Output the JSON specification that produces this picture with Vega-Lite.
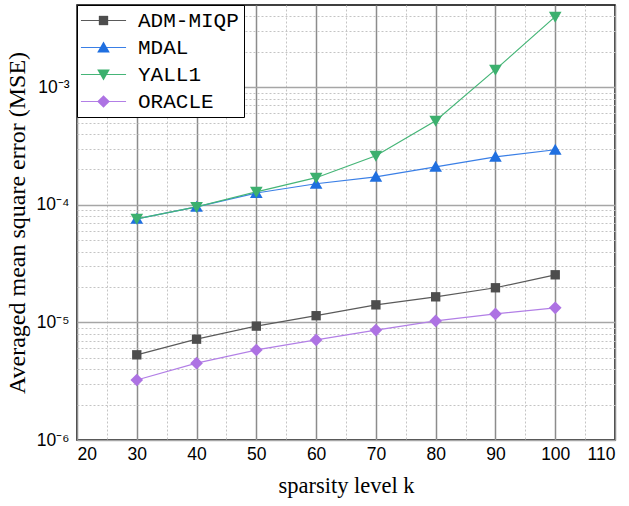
{
  "$schema": "https://vega.github.io/schema/vega-lite/v6.json",
  "width": 538,
  "height": 435,
  "autosize": "none",
  "padding": {"left": 77, "top": 5, "right": 14, "bottom": 66},
  "background": "white",
  "config": {
    "view": {"stroke": "black", "strokeWidth": 1.5},
    "axis": {"labelFont": "Liberation Sans", "labelFontSize": 17.5, "labelColor": "black", "titleFont": "Liberation Serif", "titleFontSize": 22.5, "titleFontWeight": "normal", "titleColor": "black"}
  },
  "data": {
    "values": [
      {"k": 30, "method": "ADM-MIQP", "mse": 5.3e-6},
      {"k": 40, "method": "ADM-MIQP", "mse": 7.2e-6},
      {"k": 50, "method": "ADM-MIQP", "mse": 9.3e-6},
      {"k": 60, "method": "ADM-MIQP", "mse": 1.14e-5},
      {"k": 70, "method": "ADM-MIQP", "mse": 1.41e-5},
      {"k": 80, "method": "ADM-MIQP", "mse": 1.65e-5},
      {"k": 90, "method": "ADM-MIQP", "mse": 1.97e-5},
      {"k": 100, "method": "ADM-MIQP", "mse": 2.54e-5},
      {"k": 30, "method": "MDAL", "mse": 7.6e-5},
      {"k": 40, "method": "MDAL", "mse": 9.6e-5},
      {"k": 50, "method": "MDAL", "mse": 1.26e-4},
      {"k": 60, "method": "MDAL", "mse": 1.51e-4},
      {"k": 70, "method": "MDAL", "mse": 1.73e-4},
      {"k": 80, "method": "MDAL", "mse": 2.1e-4},
      {"k": 90, "method": "MDAL", "mse": 2.56e-4},
      {"k": 100, "method": "MDAL", "mse": 2.94e-4},
      {"k": 30, "method": "YALL1", "mse": 7.6e-5},
      {"k": 40, "method": "YALL1", "mse": 9.6e-5},
      {"k": 50, "method": "YALL1", "mse": 1.29e-4},
      {"k": 60, "method": "YALL1", "mse": 1.7e-4},
      {"k": 70, "method": "YALL1", "mse": 2.61e-4},
      {"k": 80, "method": "YALL1", "mse": 5.19e-4},
      {"k": 90, "method": "YALL1", "mse": 1.41e-3},
      {"k": 100, "method": "YALL1", "mse": 3.98e-3},
      {"k": 30, "method": "ORACLE", "mse": 3.24e-6},
      {"k": 40, "method": "ORACLE", "mse": 4.5e-6},
      {"k": 50, "method": "ORACLE", "mse": 5.83e-6},
      {"k": 60, "method": "ORACLE", "mse": 7.1e-6},
      {"k": 70, "method": "ORACLE", "mse": 8.6e-6},
      {"k": 80, "method": "ORACLE", "mse": 1.03e-5},
      {"k": 90, "method": "ORACLE", "mse": 1.18e-5},
      {"k": 100, "method": "ORACLE", "mse": 1.33e-5}
    ]
  },
  "resolve": {"axis": {"x": "independent", "y": "independent"}, "scale": {"color": "independent"}, "legend": {"color": "independent"}},
  "layer": [
    {
      "mark": {"type": "point", "opacity": 0},
      "encoding": {
        "x": {"field": "k", "type": "quantitative", "scale": {"domain": [20, 110], "nice": false, "zero": false},
          "axis": {"orient": "bottom", "values": [25, 35, 45, 55, 65, 75, 85, 95, 105], "grid": true, "gridColor": "#c4c4c4", "gridDash": [2, 2], "gridWidth": 1, "labels": false, "ticks": false, "domain": false, "title": null}},
        "y": {"field": "mse", "type": "quantitative", "scale": {"type": "log", "domain": [1e-6, 5e-3], "nice": false},
          "axis": {"orient": "left", "values": [2e-6, 3e-6, 4e-6, 5e-6, 6e-6, 7e-6, 8e-6, 9e-6, 2e-5, 3e-5, 4e-5, 5e-5, 6e-5, 7e-5, 8e-5, 9e-5, 2e-4, 3e-4, 4e-4, 5e-4, 6e-4, 7e-4, 8e-4, 9e-4, 2e-3, 3e-3, 4e-3], "grid": true, "gridColor": "#c4c4c4", "gridDash": [2, 2], "gridWidth": 1, "labels": false, "ticks": false, "domain": false, "title": null}}
      }
    },
    {
      "mark": {"type": "point", "opacity": 0},
      "encoding": {
        "x": {"field": "k", "type": "quantitative", "scale": {"domain": [20, 110], "nice": false, "zero": false},
          "axis": {"orient": "bottom", "values": [20, 30, 40, 50, 60, 70, 80, 90, 100, 110], "grid": true, "gridColor": "#8c8c8c", "gridWidth": 1.5, "ticks": false, "domain": false, "labelPadding": 5, "title": "sparsity level k", "titlePadding": 12}},
        "y": {"field": "mse", "type": "quantitative", "scale": {"type": "log", "domain": [1e-6, 5e-3], "nice": false},
          "axis": {"orient": "left", "values": [1e-6, 1e-5, 1e-4, 1e-3], "grid": true, "gridColor": "#a6a6a6", "gridWidth": 1.5, "ticks": false, "domain": false, "labelPadding": 8,
            "labelExpr": "'10' + (datum.value < 2e-6 ? '⁻⁶' : datum.value < 2e-5 ? '⁻⁵' : datum.value < 2e-4 ? '⁻⁴' : '⁻³')",
            "title": "Averaged mean square error (MSE)", "titleFontSize": 24, "titlePadding": 7}}
      }
    },
    {
      "mark": {"type": "line", "strokeWidth": 1.2},
      "encoding": {
        "x": {"field": "k", "type": "quantitative", "axis": null},
        "y": {"field": "mse", "type": "quantitative", "axis": null},
        "color": {"field": "method", "type": "nominal", "sort": ["ADM-MIQP", "MDAL", "YALL1", "ORACLE"],
          "scale": {"domain": ["ADM-MIQP", "MDAL", "YALL1", "ORACLE"], "range": ["#5a5a5a", "#3a7fe6", "#45b577", "#b27fe6"]},
          "legend": {
            "title": null, "orient": "none", "legendX": 0, "legendY": 0, "zindex": 1,
            "fillColor": "white", "strokeColor": "black", "padding": 5,
            "labelFont": "Liberation Mono", "labelFontSize": 21, "labelColor": "black",
            "symbolType": "M-4.1,0H4.1", "symbolSize": 121, "symbolStrokeWidth": 1.2, "symbolOffset": 11, "labelOffset": 24, "rowPadding": 5
          }}
      }
    },
    {
      "mark": {"type": "point", "filled": true, "opacity": 1, "size": 121},
      "encoding": {
        "x": {"field": "k", "type": "quantitative", "axis": null},
        "y": {"field": "mse", "type": "quantitative", "axis": null},
        "fill": {"field": "method", "type": "nominal", "sort": ["ADM-MIQP", "MDAL", "YALL1", "ORACLE"],
          "scale": {"domain": ["ADM-MIQP", "MDAL", "YALL1", "ORACLE"], "range": ["#4d4d4d", "#1f6fe0", "#3cb06e", "#ad72e3"]},
          "legend": {
            "title": null, "orient": "none", "legendX": 0, "legendY": 0, "zindex": 2,
            "padding": 5, "labelFont": "Liberation Mono", "labelFontSize": 21, "labelOpacity": 0,
            "symbolSize": 121, "symbolOffset": 11, "symbolStrokeWidth": 0, "symbolOpacity": 1, "labelOffset": 24, "rowPadding": 5
          }},
        "shape": {"field": "method", "type": "nominal", "sort": ["ADM-MIQP", "MDAL", "YALL1", "ORACLE"],
          "scale": {"domain": ["ADM-MIQP", "MDAL", "YALL1", "ORACLE"], "range": ["M-0.85,-0.85H0.85V0.85H-0.85Z", "M0,-1.1L1.15,0.9H-1.15Z", "M0,1.1L1.15,-0.9H-1.15Z", "M0,-1.15L1.15,0L0,1.15L-1.15,0Z"]},
          "legend": {
            "title": null, "orient": "none", "legendX": 0, "legendY": 0, "zindex": 2,
            "padding": 5, "labelFont": "Liberation Mono", "labelFontSize": 21, "labelOpacity": 0,
            "symbolSize": 121, "symbolOffset": 11, "symbolStrokeWidth": 0, "symbolOpacity": 1, "labelOffset": 24, "rowPadding": 5
          }}
      }
    }
  ]
}
